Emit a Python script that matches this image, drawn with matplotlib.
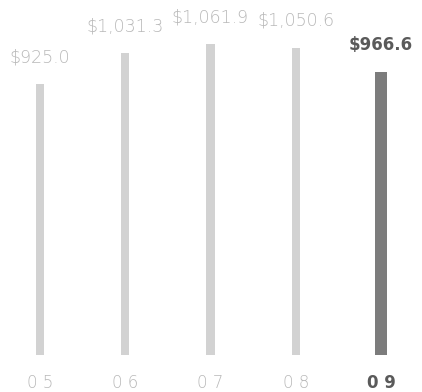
import matplotlib.pyplot as plt

years = ["05", "06", "07", "08", "09"]
revenue = [925.0, 1031.3, 1061.9, 1050.6, 966.6]

light = "#d2d2d2"
dark = "#7c7c7c"
colors = [light] * (len(years) - 1) + [dark]
text_colors = ["#b8b8b8"] * (len(years) - 1) + ["#5a5a5a"]
weights = ["light"] * (len(years) - 1) + ["bold"]
sizes = [12.5] * (len(years) - 1) + [12]

fig = plt.figure(figsize=(4.22, 3.92), dpi=100)
ax = fig.add_axes([0, 37 / 392, 1, 355 / 392])

x = list(range(len(years)))
widths = [0.095] * (len(years) - 1) + [0.13]
ax.bar(x, revenue, width=widths, color=colors, linewidth=0)

for i, v in enumerate(revenue):
    ax.annotate(f"${v:,.1f}", (i, v), xytext=(0, 13), textcoords="offset points",
                ha="center", va="bottom", fontsize=sizes[i], family="DejaVu Sans",
                color=text_colors[i], fontweight=weights[i])
    ax.text(i, -0.08, " ".join(years[i]), transform=ax.get_xaxis_transform(),
            ha="center", va="center", fontsize=12, family="DejaVu Sans",
            color=text_colors[i], fontweight=weights[i])

ax.set_xlim(-40 / 85.25, 382 / 85.25)
ax.set_ylim(0, 355 / 0.2925)
ax.axis("off")

fig.savefig("out.png", dpi=100)
